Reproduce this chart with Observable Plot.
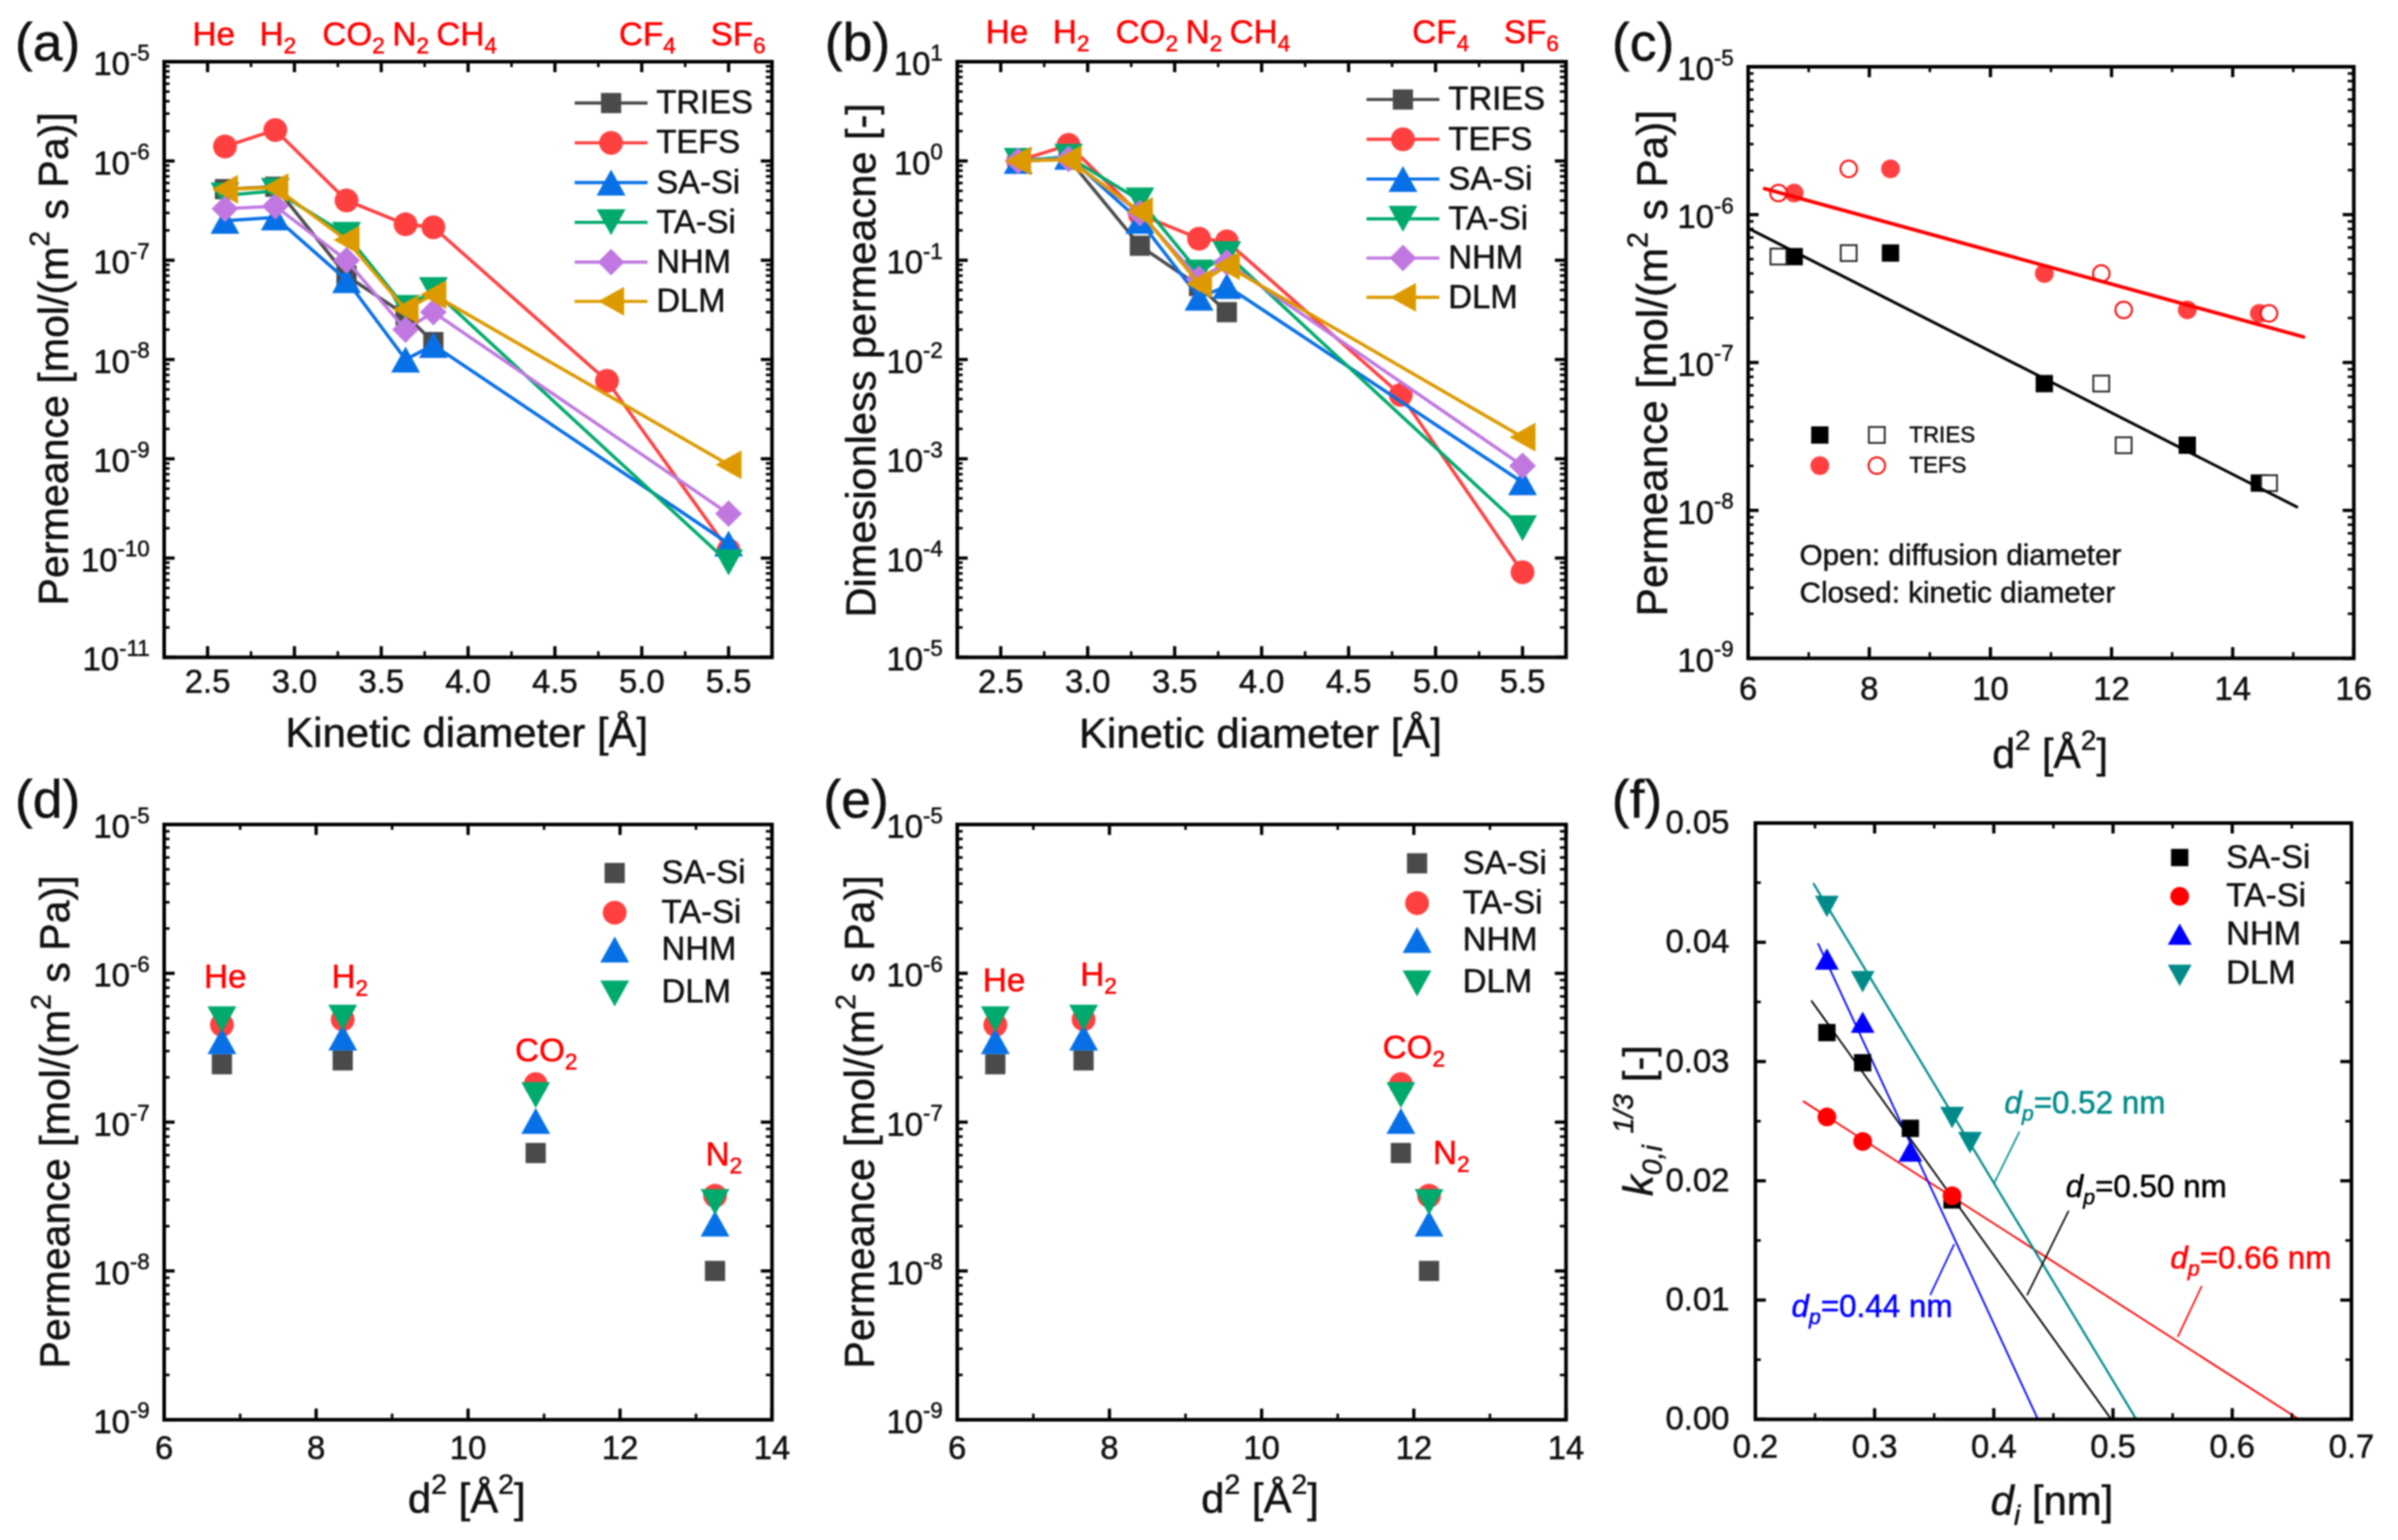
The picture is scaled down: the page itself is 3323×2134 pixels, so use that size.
<!DOCTYPE html>
<html><head><meta charset="utf-8">
<script src="https://cdn.jsdelivr.net/npm/d3@7"></script>
<script src="https://cdn.jsdelivr.net/npm/@observablehq/plot@0.6"></script>
<style>
html,body{margin:0;background:#fff;overflow:hidden}
#page{position:relative;width:3323px;height:2134px;background:#fff}
#page svg{position:absolute;overflow:visible;filter:blur(0.9px);max-width:none}
</style></head><body><div id="page"></div>
<script>
// ---------- data ----------
const kineticDiameter=[2.6,2.89,3.3,3.64,3.8,4.8,5.5];
const aTRIES=[5.2e-7,5.5e-7,7e-8,2.8e-8,1.5e-8,null,null];
const aTEFS=[1.4e-6,2.05e-6,4e-7,2.3e-7,2.15e-7,6.1e-9,1.2e-10];
const aSASi=[2.5e-7,2.7e-7,6.3e-8,1e-8,1.4e-8,null,1.4e-10];
const aTASi=[4.5e-7,5e-7,1.8e-7,3.3e-8,5e-8,null,9e-11];
const aNHM=[3.3e-7,3.5e-7,1e-7,2e-8,3e-8,null,2.8e-10];
const aDLM=[5.2e-7,5.4e-7,1.6e-7,3.2e-8,4.5e-8,null,8.7e-10];
const bTRIES=[1,1.05,0.14,0.055,0.03,null,null];
const bTEFS=[1,1.45,0.29,0.165,0.155,4.4e-3,7.2e-5];
const bSASi=[1,1.1,0.25,0.042,0.055,null,5.8e-4];
const bTASi=[1,1.1,0.4,0.075,0.115,null,2e-4];
const bNHM=[1,1.05,0.3,0.065,0.095,null,8.5e-4];
const bDLM=[1,1.03,0.31,0.058,0.088,null,1.65e-3];
const cKineticX=[6.76,8.35,10.89,13.25,14.44];
const cDiffusionX=[6.5,7.66,11.83,12.2,14.6];
const cTRIES=[5.2e-7,5.5e-7,7.2e-8,2.76e-8,1.53e-8];
const cTEFS=[1.4e-6,2.04e-6,4e-7,2.27e-7,2.15e-7];
const cFitTRIESx=[6,15.06], cFitTRIESy=[8.1e-7,1.056e-8];
const cFitTEFSx=[6.27,15.17], cFitTEFSy=[1.5e-6,1.49e-7];
const dX=[6.76,8.35,10.89,13.25];
const eX=[6.5,7.66,11.83,12.2];
const deSASi=[2.45e-7,2.6e-7,6.2e-8,1e-8];
const deTASi=[4.5e-7,4.9e-7,1.8e-7,3.2e-8];
const deNHM=[3.5e-7,3.7e-7,1.02e-7,2.08e-8];
const deDLM=[4.9e-7,5.03e-7,1.52e-7,2.9e-8];
const fSASiX=[0.26,0.29,0.33,0.365], fSASi=[0.03243,0.0299,0.0244,0.0184];
const fTASiX=[0.26,0.29,0.365], fTASi=[0.02535,0.0233,0.01875];
const fNHMX=[0.26,0.29,0.33], fNHM=[0.0386,0.0333,0.0225];
const fDLMX=[0.26,0.29,0.365,0.38], fDLM=[0.043,0.0367,0.0253,0.0232];
const fFitSASi=[[0.2472,0.03507],[0.4985,0]];
const fFitTASi=[[0.2404,0.02665],[0.656,0]];
const fFitNHM=[[0.2527,0.03987],[0.437,0]];
const fFitDLM=[[0.2489,0.0449],[0.5195,0]];
const fLeaders=[[0.4216,0.02413,0.4005,0.01985,"#008f8f"],[0.4628,0.01749,0.4279,0.01041,"#000"],[0.5745,0.01119,0.5543,0.00692,"#f00"],[0.3668,0.01469,0.3466,0.01041,"#00f"]];
// ---------- ticks ----------
const decades=(a,b)=>d3.range(a,b+1).map(e=>+`1e${e}`);
const minors=(a,b)=>d3.range(a,b).flatMap(e=>[2,3,4,5,6,7,8,9].map(m=>+`${m}e${e}`));
const kdMajor=[2.5,3,3.5,4,4.5,5,5.5], kdMinor=[2.25,2.75,3.25,3.75,4.25,4.75,5.25,5.75];
const d2MajorC=[6,8,10,12,14,16], d2MinorC=[7,9,11,13,15];
const d2Major=[6,8,10,12,14], d2Minor=[7,9,11,13];
const fXMajor=[0.2,0.3,0.4,0.5,0.6,0.7], fXMinor=[0.25,0.35,0.45,0.55,0.65];
const fYMajor=[0,0.01,0.02,0.03,0.04,0.05], fYMinor=[0.005,0.015,0.025,0.035,0.045];
// ---------- colours ----------
const GRAY="#4a4a4a",RED="#ff4040",BLUE="#0870e6",GREEN="#00a96c",PURPLE="#c078e0",GOLD="#dc9a00";
// ---------- symbols ----------
const rad=s=>Math.sqrt(s/Math.PI);
const poly=(ctx,pts)=>{pts.forEach((p,i)=>i?ctx.lineTo(p[0],p[1]):ctx.moveTo(p[0],p[1]));ctx.closePath();};
const SQ={draw(c,s){const r=rad(s);poly(c,[[-r,-r],[r,-r],[r,r],[-r,r]]);}};
const UP={draw(c,s){const r=rad(s);poly(c,[[0,-.9*r],[r,.9*r],[-r,.9*r]]);}};
const DN={draw(c,s){const r=rad(s);poly(c,[[0,.9*r],[r,-.9*r],[-r,-.9*r]]);}};
const LF={draw(c,s){const r=rad(s);poly(c,[[-.9*r,0],[.9*r,-r],[.9*r,r]]);}};
const DI={draw(c,s){const r=rad(s);poly(c,[[0,-r],[r,0],[0,r],[-r,0]]);}};
const HL={draw(c,s){const r=rad(s);c.moveTo(-r,0);c.lineTo(r,0);}};
const SIZES=new Map([[SQ,14],["circle",16.5],[UP,20],[DN,20],[LF,20],[DI,18.5]]);
// ---------- layout ----------
const ML=220,MR=50,MT=85,MB=160;
const FONT="Liberation Sans, Arial, sans-serif";
const page=document.getElementById("page");
function richify(svg){
  svg.querySelectorAll("text").forEach(t=>{
    const cs=getComputedStyle(t);
    t.style.stroke=cs.fill; t.style.strokeWidth="0.7px";
    const s=t.textContent; if(!/[*]|[_^]\*?\{/.test(s)) return;
    const base=parseFloat(cs.fontSize);
    const parts=s.split(/(\*[^*]+\*|[_^]\*?\{[^}]*\})/).filter(p=>p!=="");
    t.textContent=""; let cur=0;
    for(const p of parts){
      let txt=p,off=0,italic=false,small=false,m;
      if((m=p.match(/^([_^])(\*?)\{([^}]*)\}$/))){txt=m[3];italic=!!m[2];small=true;off=m[1]==="^"?-0.45*base:0.24*base;}
      else if((m=p.match(/^\*([^*]+)\*$/))){txt=m[1];italic=true;}
      const ts=document.createElementNS("http://www.w3.org/2000/svg","tspan");
      ts.textContent=txt; ts.setAttribute("dy",off-cur); cur=off;
      if(italic) ts.setAttribute("font-style","italic");
      if(small) ts.setAttribute("font-size",0.68*base);
      t.appendChild(ts);
    }
  });
}
function panel(f,xScale,yScale,xMaj,xMin,yMaj,yMin,axes,draw){
  const W=f.x1-f.x0,H=f.y1-f.y0;
  // a note takes page coordinates and is placed relative to the frame
  const note=(text,x,y,o={})=>Plot.text([text],{text:d=>d,frameAnchor:"top-left",dx:x-f.x0,dy:y-f.y0,textAnchor:"start",lineAnchor:"bottom",fontSize:45.5,fill:"#111",...o});
  const sym=(s,x,y,o={})=>Plot.dot([0],{frameAnchor:"top-left",dx:x-f.x0,dy:y-f.y0,symbol:s,r:SIZES.get(s),stroke:"none",...o});
  const tk={stroke:"#000"};
  const marks=[
    ...draw(note,sym),
    Plot.ruleY(yMin,{y:d=>d,insetRight:W-8,strokeWidth:3.5,...tk}),Plot.ruleY(yMin,{y:d=>d,insetLeft:W-8,strokeWidth:3.5,...tk}),
    Plot.ruleY(yMaj,{y:d=>d,insetRight:W-15,strokeWidth:4.5,...tk}),Plot.ruleY(yMaj,{y:d=>d,insetLeft:W-15,strokeWidth:4.5,...tk}),
    Plot.ruleX(xMin,{x:d=>d,insetBottom:H-8,strokeWidth:3.5,...tk}),Plot.ruleX(xMin,{x:d=>d,insetTop:H-8,strokeWidth:3.5,...tk}),
    Plot.ruleX(xMaj,{x:d=>d,insetBottom:H-15,strokeWidth:4.5,...tk}),Plot.ruleX(xMaj,{x:d=>d,insetTop:H-15,strokeWidth:4.5,...tk}),
    Plot.frame({stroke:"#000",strokeWidth:5}),
    Plot.axisX(xMaj,{anchor:"bottom",label:null,tickSize:0,tickPadding:axes.xPad,fontSize:45.5,tickFormat:axes.xFmt}),
    Plot.axisY(yMaj,{anchor:"left",label:null,tickSize:0,tickPadding:axes.yPad,fontSize:45.5,dy:axes.yDy,tickFormat:axes.yFmt}),
  ];
  const svg=Plot.plot({width:W+ML+MR,height:H+MT+MB,marginLeft:ML,marginRight:MR,marginTop:MT,marginBottom:MB,
    x:xScale,y:yScale,style:{background:"transparent",fontFamily:FONT,color:"#111",overflow:"visible"},marks});
  svg.style.left=(f.x0-ML)+"px"; svg.style.top=(f.y0-MT)+"px";
  page.appendChild(svg); richify(svg);
}
const pow10=d=>`10^{${Math.round(Math.log10(d))}}`;
const rows=(xs,ys)=>xs.map((x,i)=>({x,y:ys[i]})).filter(r=>r.y!=null);
const seriesMarks=(list,xs)=>list.flatMap(([ys,color,s])=>{const d=rows(xs,ys);return[
  Plot.line(d,{x:"x",y:"y",stroke:color,strokeWidth:4.6}),
  Plot.dot(d,{x:"x",y:"y",fill:color,stroke:"none",symbol:s,r:SIZES.get(s)})];});
const LAB={lineAnchor:"middle"};
function lineLegend(note,sym,names,xLine,xText,ys,list){
  return names.flatMap((n,i)=>[
    sym(HL,xLine,ys[i],{r:50.5,stroke:list[i][1],strokeWidth:4.4,fill:"none"}),
    sym(list[i][2],xLine,ys[i],{fill:list[i][1]}),
    note(n,xText,ys[i],LAB)]);
}
function gasRow(note,names,xs,y){return names.map((n,i)=>note(n,xs[i],y,{fill:"#f00",fontSize:46}));}
const gasNames=["He","H_{2}","CO_{2}","N_{2}","CH_{4}","CF_{4}","SF_{6}"];
const names6=["TRIES","TEFS","SA-Si","TA-Si","NHM","DLM"];
const permTitle="Permeance [mol/(m^{2} s Pa)]";

// (a)
const aList=[[aTRIES,GRAY,SQ],[aTEFS,RED,"circle"],[aSASi,BLUE,UP],[aTASi,GREEN,DN],[aNHM,PURPLE,DI],[aDLM,GOLD,LF]];
panel({x0:226.7,x1:1069,y0:85.3,y1:910.7},{domain:[2.25,5.75]},{type:"log",domain:[1e-11,1e-5]},kdMajor,kdMinor,decades(-11,-5),minors(-11,-5),
 {xPad:17,yPad:20,yDy:4,yFmt:pow10,xFmt:d=>d.toFixed(1)},(note,sym)=>[
  ...seriesMarks(aList,kineticDiameter),
  ...lineLegend(note,sym,names6,846,908.6,[142.6,197.7,252.8,307.9,363,417.4],aList),
  ...gasRow(note,gasNames,[266,359,446,543,604,857,984],63),
  note("(a)",20,84,{fontSize:74}),
  note("Kinetic diameter [Å]",646,1035,{fontSize:58,textAnchor:"middle"}),
  note(permTitle,93,497,{fontSize:57,textAnchor:"middle",rotate:-90}),
 ]);
// (b)
const bList=[[bTRIES,GRAY,SQ],[bTEFS,RED,"circle"],[bSASi,BLUE,UP],[bTASi,GREEN,DN],[bNHM,PURPLE,DI],[bDLM,GOLD,LF]];
panel({x0:1326.4,x1:2170,y0:85.3,y1:910.7},{domain:[2.25,5.75]},{type:"log",domain:[1e-5,10]},kdMajor,kdMinor,decades(-5,1),minors(-5,1),
 {xPad:17,yPad:20,yDy:4,yFmt:pow10,xFmt:d=>d.toFixed(1)},(note,sym)=>[
  ...seriesMarks(bList,kineticDiameter),
  ...lineLegend(note,sym,names6,1944,2007,[137.7,192.8,247.9,303,357.4,411.8],bList),
  ...gasRow(note,gasNames,[1366,1459,1546,1643,1704,1957,2084],60),
  note("(b)",1143,84,{fontSize:74}),
  note("Kinetic diameter [Å]",1746.6,1036,{fontSize:58,textAnchor:"middle"}),
  note("Dimesionless permeacne [-]",1213,499,{fontSize:57.5,textAnchor:"middle",rotate:-90}),
 ]);
// (c)
panel({x0:2421.7,x1:3261,y0:92.3,y1:912},{domain:[6,16]},{type:"log",domain:[1e-9,1e-5]},d2MajorC,d2MinorC,decades(-9,-5),minors(-9,-5),
 {xPad:25,yPad:20,yDy:4,yFmt:pow10},(note,sym)=>[
  Plot.dot(rows(cKineticX,cTRIES),{x:"x",y:"y",symbol:SQ,r:12,fill:"#000",stroke:"none"}),
  Plot.dot(rows(cKineticX,cTEFS),{x:"x",y:"y",r:13,fill:RED}),
  Plot.dot(rows(cDiffusionX,cTRIES),{x:"x",y:"y",symbol:SQ,r:11,fill:"#fff",stroke:"#222",strokeWidth:2.5}),
  Plot.dot(rows(cDiffusionX,cTEFS),{x:"x",y:"y",r:11.5,fill:"#fff",stroke:"#f00",strokeWidth:2.5}),
  Plot.line(rows(cFitTRIESx,cFitTRIESy),{x:"x",y:"y",stroke:"#000",strokeWidth:4}),
  Plot.line(rows(cFitTEFSx,cFitTEFSy),{x:"x",y:"y",stroke:"#f00",strokeWidth:5}),
  sym(SQ,2521,602.6,{r:12,fill:"#000"}),sym(SQ,2600,602.6,{r:11,fill:"none",stroke:"#222",strokeWidth:2.5}),note("TRIES",2645,602.6,{fontSize:31,...LAB}),
  sym("circle",2521,645,{r:13,fill:RED}),sym("circle",2600,645,{r:11.5,fill:"none",stroke:"#f00",strokeWidth:2.5}),note("TEFS",2645,645,{fontSize:31,...LAB}),
  note("Open: diffusion diameter",2493,770,{fontSize:41,...LAB}),
  note("Closed: kinetic diameter",2493,821.6,{fontSize:41,...LAB}),
  note("(c)",2233,84,{fontSize:74}),
  note("d^{2} [Å^{2}]",2840,1064,{fontSize:57,textAnchor:"middle"}),
  note(permTitle,2309,503,{fontSize:58.5,textAnchor:"middle",rotate:-90}),
 ]);
// (d), (e)
const deList=[[deSASi,GRAY,SQ],[deTASi,RED,"circle"],[deNHM,BLUE,UP],[deDLM,GREEN,DN]];
const deNames=["SA-Si","TA-Si","NHM","DLM"];
function dePanel(letter,f,xs,mx,my,lx,ly,gasX,gasY,letterX,titleX,yTitleX){
  panel(f,{domain:[6,14]},{type:"log",domain:[1e-9,1e-5]},d2Major,d2Minor,decades(-9,-5),minors(-9,-5),
  {xPad:22,yPad:20,yDy:4,yFmt:pow10},(note,sym)=>[
   ...deList.flatMap(([ys,color,s])=>[Plot.dot(rows(xs,ys),{x:"x",y:"y",fill:color,stroke:"none",symbol:s,r:SIZES.get(s)})]),
   ...deNames.flatMap((n,i)=>[sym(deList[i][2],mx,my[i],{fill:deList[i][1]}),note(n,lx,ly[i],LAB)]),
   ...["He","H_{2}","CO_{2}","N_{2}"].map((n,i)=>note(n,gasX[i],gasY[i],{fill:"#f00",fontSize:46})),
   note(letter,letterX,1132,{fontSize:74}),
   note("d^{2} [Å^{2}]",titleX,2095,{fontSize:58,textAnchor:"middle"}),
   note(permTitle,yTitleX,1554,{fontSize:57,textAnchor:"middle",rotate:-90}),
  ]);
}
dePanel("(d)",{x0:226.7,x1:1069,y0:1141.8,y1:1966.7},dX,851,[1209,1264,1315,1376],916,[1209,1264,1315,1374],[282,458.6,713,977],[1368,1368,1470,1614],20,646,95);
dePanel("(e)",{x0:1326.4,x1:2170,y0:1141.8,y1:1966.7},eX,1963.6,[1195.6,1250.7,1301.8,1362],2027,[1195.6,1250.7,1301.8,1360],[1362,1497,1916,1985.7],[1373,1365,1466.4,1612],1141,1746,1211);
// (f)
const pairs=a=>a.map(([x,y])=>({x,y}));
const fSeries=[[fFitSASi,fSASiX,fSASi,"#000",SQ,12],[fFitTASi,fTASiX,fTASi,"#f00","circle",13],[fFitNHM,fNHMX,fNHM,"#00f",UP,16.5],[fFitDLM,fDLMX,fDLM,"#008a8a",DN,16.5]];
panel({x0:2432,x1:3258,y0:1139.7,y1:1966},{domain:[0.2,0.7]},{domain:[0,0.05]},fXMajor,fXMinor,fYMajor,fYMinor,
 {xPad:21,yPad:36,yDy:0,yFmt:d=>d.toFixed(2),xFmt:d=>d.toFixed(1)},(note,sym)=>[
  ...fSeries.map(([fit,,,c])=>Plot.line(pairs(fit),{x:"x",y:"y",stroke:c,strokeWidth:c==="#008a8a"?3:2.4})),
  Plot.link(fLeaders,{x1:d=>d[0],y1:d=>d[1],x2:d=>d[2],y2:d=>d[3],stroke:d=>d[4],strokeWidth:2.2}),
  ...fSeries.map(([,xs,ys,c,s,r])=>Plot.dot(rows(xs,ys),{x:"x",y:"y",fill:c,stroke:"none",symbol:s,r})),
  ...["SA-Si","TA-Si","NHM","DLM"].flatMap((n,i)=>[sym(fSeries[i][4],3020,[1187.5,1241.3,1293.7,1350.8][i],{r:fSeries[i][5],fill:fSeries[i][3]}),note(n,3084.6,[1187.5,1241,1293.7,1347.5][i],LAB)]),
  note("*d*_*{p}=0.52 nm",2777,1542,{fill:"#008a8a",fontSize:43.5}),
  note("*d*_*{p}=0.50 nm",2862,1658,{fill:"#000",fontSize:43.5}),
  note("*d*_*{p}=0.66 nm",3007,1757,{fill:"#f00",fontSize:43.5}),
  note("*d*_*{p}=0.44 nm",2482,1824,{fill:"#00f",fontSize:43.5}),
  note("(f)",2233,1132,{fontSize:74}),
  note("*d*_*{i} [nm]",2843,2098,{fontSize:58,textAnchor:"middle"}),
  note("*k*_*{0,i}\u00a0^*{1/3} [-]",2289,1552,{fontSize:58,textAnchor:"middle",rotate:-90}),
 ]);
</script></body></html>
